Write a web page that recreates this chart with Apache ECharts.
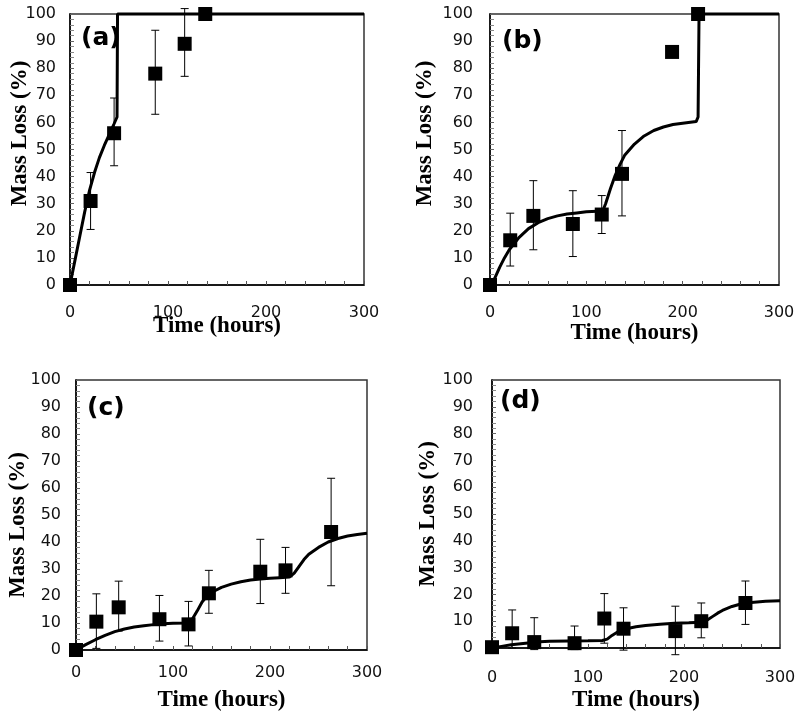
<!DOCTYPE html>
<html>
<head>
<meta charset="utf-8">
<script src="https://cdn.jsdelivr.net/npm/echarts@6/dist/echarts.min.js"></script>
<style>
html,body{margin:0;padding:0;background:#fff;}
#chart{width:800px;height:719px;}
</style>
</head>
<body>
<div id="chart"></div>
<script>
// ---------- Data ----------
const panelLabels = ['(a)', '(b)', '(c)', '(d)'];
const xTickLabels = [0, 100, 200, 300];
const yTickLabels = [0, 10, 20, 30, 40, 50, 60, 70, 80, 90, 100];

// (a)
const aX = [0, 21, 45, 87, 117, 138];
const aY = [0, 31, 56, 78, 89, 100];
const aLo = [null, 20.5, 44, 63, 77, null];
const aHi = [null, 41.5, 69, 94, 102, null];
const aCurve = [[0,0],[5,9],[10,18],[15,27],[20,35],[25,41.5],[30,47],[35,51.5],[40,55.5],[45,59.5],[48,62],[48.5,100],[300,100]];

// (b)
const bX = [0, 21, 45, 86, 116, 137, 189, 216];
const bY = [0, 16.5, 25.5, 22.5, 26, 41, 86, 100];
const bLo = [null, 7, 13, 10.5, 19, 25.5, null, null];
const bHi = [null, 26.5, 38.5, 34.8, 33, 57, null, null];
const bCurve = [[0,0],[5,2.5],[10,6.5],[15,10],[20,13],[30,17.5],[40,20.8],[50,23],[60,24.5],[70,25.5],[80,26.2],[90,26.6],[100,27],[117,27.3],[120,30],[125,35.5],[130,40.5],[135,44.5],[140,48],[150,52],[160,55],[170,57],[180,58.3],[190,59.2],[200,59.7],[214,60.3],[216,62],[217,100],[300,100]];

// (c)
const cX = [0, 21, 44, 86, 116, 137, 190, 216, 263];
const cY = [0, 10.5, 15.8, 11.4, 9.5, 21, 29, 29.5, 43.7];
const cLo = [null, 0.6, 7, 3.3, 1.5, 13.6, 17.2, 21, 23.8];
const cHi = [null, 20.8, 25.5, 20.2, 18, 29.5, 41, 38, 63.6];
const cCurve = [[0,0],[10,2],[20,3.8],[30,5.4],[40,6.8],[50,7.8],[60,8.5],[70,9],[80,9.4],[90,9.7],[100,9.9],[115,10],[120,11.5],[125,14.5],[130,17.8],[135,20],[140,21.4],[150,23.2],[160,24.4],[170,25.3],[180,25.9],[190,26.3],[200,26.6],[210,26.8],[220,27],[225,28.5],[230,31],[235,33.5],[240,35.5],[250,38],[260,40],[270,41.3],[280,42.2],[290,42.8],[300,43.2]];

// (d)
const dX = [0, 21, 44, 86, 117, 137, 191, 218, 264];
const dY = [0.3, 5.5, 2.2, 1.8, 11, 7.2, 6.3, 10, 16.8];
const dLo = [null, 0, -0.6, -0.6, 1.8, -0.8, -2.5, 3.8, 8.8];
const dHi = [null, 14.2, 11.3, 8.2, 20.3, 15, 15.6, 16.8, 25];
const dCurve = [[0,0],[10,0.6],[20,1.2],[30,1.6],[40,2],[50,2.3],[60,2.5],[80,2.6],[100,2.7],[115,2.8],[120,3.3],[125,4.7],[130,5.8],[140,7.2],[150,7.9],[160,8.4],[175,8.9],[190,9.2],[205,9.4],[218,9.6],[225,10.6],[230,11.8],[235,13],[240,14],[250,15.5],[260,16.5],[270,17],[285,17.4],[300,17.6]];

const xTitle = 'Time (hours)';
const yTitle = 'Mass Loss (%)';

// ---------- Layout ----------
const panels = [
  {x: aX, y: aY, lo: aLo, hi: aHi, curve: aCurve,
   grid: {left: 70, top: 14, width: 294, height: 271},
   yMargin: 14, xMargin: 20, xGap: 30, yGap: 38, yPad: [0,0,0,32], label: {x: 81, y: 40}},
  {x: bX, y: bY, lo: bLo, hi: bHi, curve: bCurve,
   grid: {left: 490, top: 14, width: 289, height: 271},
   yMargin: 17, xMargin: 20, xGap: 37, yGap: 53, yPad: [0,0,0,32], label: {x: 502, y: 43}},
  {x: cX, y: cY, lo: cLo, hi: cHi, curve: cCurve,
   grid: {left: 76, top: 380, width: 291, height: 270},
   yMargin: 15, xMargin: 15, xGap: 39, yGap: 46, yPad: [0,20,0,0], label: {x: 87, y: 410}},
  {x: dX, y: dY, lo: dLo, hi: dHi, curve: dCurve,
   grid: {left: 492, top: 380, width: 288, height: 268},
   yMargin: 19, xMargin: 22, xGap: 41, yGap: 52, yPad: [0,0,0,0], label: {x: 500, y: 403}}
];

const tickFont = 'DejaVu Sans';
const titleFont = 'Liberation Serif';

const grids = [], xAxes = [], yAxes = [], series = [], graphics = [];

panels.forEach((p, i) => {
  grids.push(Object.assign({show: true, borderColor: '#333', borderWidth: 1.5, backgroundColor: '#fff'}, p.grid));
  xAxes.push({
    type: 'value', gridIndex: i, min: 0, max: 300, interval: 100,
    name: xTitle, nameLocation: 'middle', nameGap: p.xGap, nameMoveOverlap: false,
    nameTextStyle: {fontFamily: titleFont, fontWeight: 'bold', fontSize: 23, color: '#000'},
    axisLine: {show: true, lineStyle: {color: '#000', width: 1.5}},
    axisTick: {show: true, inside: true, length: 4, lineStyle: {color: '#555'}},
    minorTick: {show: true, splitNumber: 5, length: 4, lineStyle: {color: '#555'}},
    splitLine: {show: false},
    axisLabel: {fontFamily: tickFont, fontSize: 16, color: '#111', margin: p.xMargin,
      formatter: v => xTickLabels.includes(v) ? String(v) : ''}
  });
  yAxes.push({
    type: 'value', gridIndex: i, min: 0, max: 100, interval: 10,
    name: yTitle, nameLocation: 'middle', nameGap: p.yGap, nameRotate: 90, nameMoveOverlap: false,
    nameTextStyle: {fontFamily: titleFont, fontWeight: 'bold', fontSize: 23, color: '#000', padding: p.yPad},
    axisLine: {show: true, lineStyle: {color: '#000', width: 1.5}},
    axisTick: {show: true, inside: true, length: 4, lineStyle: {color: '#666'}},
    minorTick: {show: true, splitNumber: 5, length: 4, lineStyle: {color: '#888'}},
    splitLine: {show: false},
    axisLabel: {fontFamily: tickFont, fontSize: 16, color: '#111', margin: p.yMargin,
      formatter: v => yTickLabels.includes(v) ? String(v) : ''}
  });

  // error bars
  const errData = p.x.map((x, k) => [x, p.lo[k], p.hi[k]]).filter(d => d[1] !== null);
  series.push({
    type: 'custom', xAxisIndex: i, yAxisIndex: i, clip: false, z: 2,
    data: errData,
    renderItem: function (params, api) {
      const x = api.value(0);
      const lo = api.coord([x, api.value(1)]);
      const hi = api.coord([x, api.value(2)]);
      const hw = 4;
      const style = {stroke: '#000', lineWidth: 1, fill: null};
      return {
        type: 'group',
        children: [
          {type: 'line', shape: {x1: lo[0], y1: lo[1], x2: hi[0], y2: hi[1]}, style: style},
          {type: 'line', shape: {x1: lo[0]-hw, y1: lo[1], x2: lo[0]+hw, y2: lo[1]}, style: style},
          {type: 'line', shape: {x1: hi[0]-hw, y1: hi[1], x2: hi[0]+hw, y2: hi[1]}, style: style}
        ]
      };
    }
  });
  // model curve
  series.push({
    type: 'line', xAxisIndex: i, yAxisIndex: i, data: p.curve, showSymbol: false,
    lineStyle: {color: '#000', width: 3}, z: 3, animation: false, clip: false
  });
  // data points
  series.push({
    type: 'scatter', xAxisIndex: i, yAxisIndex: i,
    data: p.x.map((x, k) => [x, p.y[k]]),
    symbol: 'rect', symbolSize: 14, itemStyle: {color: '#000', opacity: 1}, z: 4
  });

  graphics.push({
    type: 'text', left: p.label.x, top: p.label.y - 14,
    style: {text: panelLabels[i], font: 'bold 25px "DejaVu Sans"', fill: '#000'}, z: 10
  });
});

const chart = echarts.init(document.getElementById('chart'), null, {renderer: 'canvas'});
chart.setOption({
  animation: false,
  backgroundColor: '#fff',
  grid: grids, xAxis: xAxes, yAxis: yAxes, series: series, graphic: graphics
});
</script>
</body>
</html>
